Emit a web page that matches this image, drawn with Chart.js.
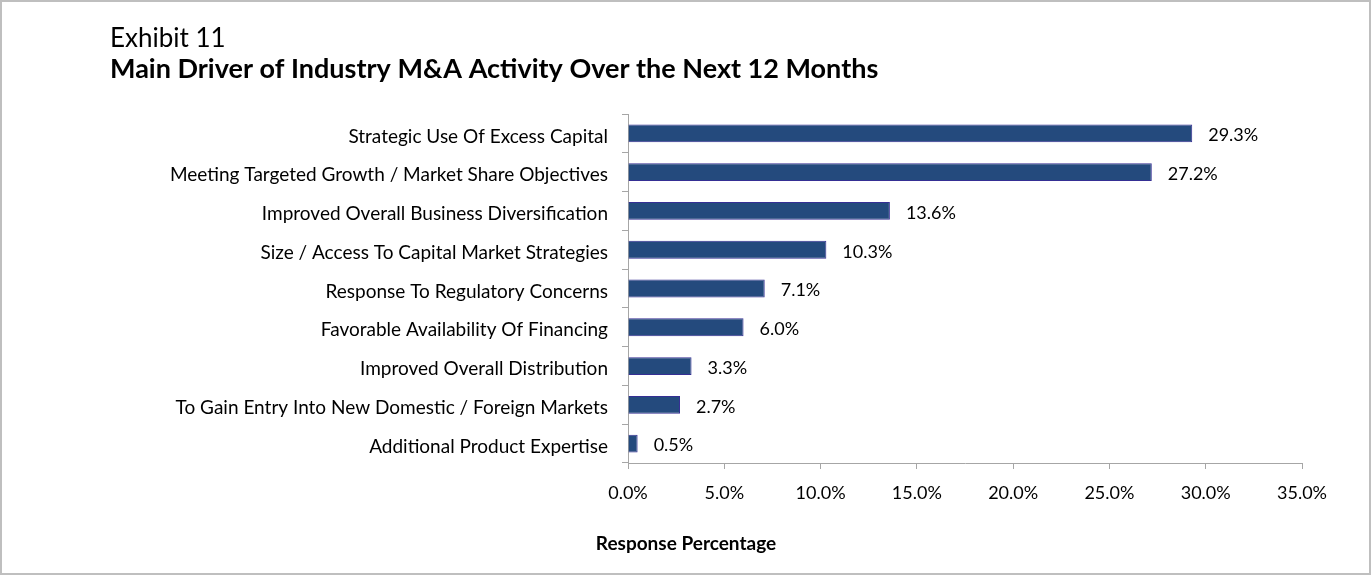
<!DOCTYPE html>
<html>
<head>
<meta charset="utf-8">
<script src="https://cdn.jsdelivr.net/npm/chart.js@4"></script>
<style>
  body { margin: 0; background: #fff; }
  #box {
    position: absolute; left: 0; top: 0;
    width: 1367px; height: 571px;
    border: 2px solid #bfbfbf;
  }
  canvas { position: absolute; left: 0; top: 0; }
</style>
</head>
<body>
<div id="box"></div>
<canvas id="myChart" width="1371" height="575"></canvas>
<script>
const categories = [
  'Strategic Use Of Excess Capital',
  'Meeting Targeted Growth / Market Share Objectives',
  'Improved Overall Business Diversification',
  'Size / Access To Capital Market Strategies',
  'Response To Regulatory Concerns',
  'Favorable Availability Of Financing',
  'Improved Overall Distribution',
  'To Gain Entry Into New Domestic / Foreign Markets',
  'Additional Product Expertise'
];
const values = [29.3, 27.2, 13.6, 10.3, 7.1, 6.0, 3.3, 2.7, 0.5];
const xTicks = [0, 5, 10, 15, 20, 25, 30, 35];

const fontName = 'Lato, "Open Sans", sans-serif';

// headings, axis title and the value labels
const textPlugin = {
  id: 'texts',
  afterDraw(chart) {
    const ctx = chart.ctx;
    ctx.save();
    ctx.fillStyle = '#000';
    ctx.textAlign = 'left';
    ctx.textBaseline = 'alphabetic';
    ctx.font = '26px ' + fontName;
    ctx.fillText('Exhibit 11', 110, 47);
    ctx.font = 'bold 27px ' + fontName;
    ctx.fillText('Main Driver of Industry M&A Activity Over the Next 12 Months', 110, 78);

    ctx.font = 'bold 19px ' + fontName;
    ctx.textAlign = 'center';
    ctx.fillText('Response Percentage', 686, 550);

    // value labels
    ctx.font = '18px ' + fontName;
    ctx.textAlign = 'left';
    ctx.textBaseline = 'middle';
    const meta = chart.getDatasetMeta(0);
    meta.data.forEach((bar, i) => {
      ctx.fillText(values[i].toFixed(1) + '%', bar.x + 16, bar.y + 2);
    });
    ctx.restore();
  }
};

const chartData = {
  labels: categories,
  datasets: [
    {
      data: values,
      backgroundColor: '#244A7D',
      borderColor: '#352F94',
      borderWidth: 1,
      borderSkipped: 'start',
      barPercentage: 0.46,
      categoryPercentage: 1
    }
  ]
};

const chartConfig = {
  type: 'bar',
  data: chartData,
  plugins: [textPlugin],
  options: {
    indexAxis: 'y',
    responsive: false,
    animation: false,
    layout: { padding: { top: 114, right: 69, bottom: 0, left: 0 } },
    plugins: {
      legend: { display: false },
      tooltip: { enabled: false }
    },
    scales: {
      x: {
        min: 0,
        max: 35,
        afterBuildTicks(scale) {
          scale.ticks = xTicks.map(v => ({ value: v }));
        },
        afterFit(scale) { scale.height = 112; },
        grid: { drawOnChartArea: false, tickLength: 6, color: '#a6a6a6' },
        border: { display: true, color: '#a6a6a6' },
        ticks: {
          padding: 13,
          color: '#000',
          font: { family: fontName, size: 18 },
          callback: v => v.toFixed(1) + '%'
        }
      },
      y: {
        afterFit(scale) { scale.width = 628; },
        grid: { drawOnChartArea: false, tickLength: 6, color: '#a6a6a6', offset: true },
        border: { display: true, color: '#a6a6a6' },
        ticks: {
          padding: 14,
          labelOffset: 3,
          color: '#000',
          font: { family: fontName, size: 19 }
        }
      }
    }
  }
};

new Chart(document.getElementById('myChart'), chartConfig);
</script>
</body>
</html>
